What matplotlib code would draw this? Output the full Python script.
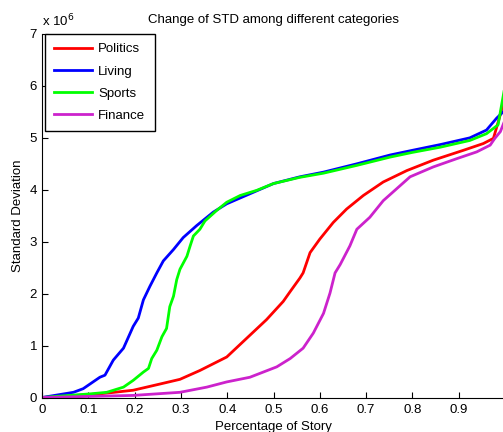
import matplotlib.pyplot as plt
import numpy as np

# readings (x = share of story, y = std in units of 1e6)
living_x = [0, 0.068, 0.089, 0.125, 0.136, 0.154, 0.176, 0.197, 0.208, 0.219, 0.233, 0.248,
            0.262, 0.284, 0.305, 0.334, 0.370, 0.399, 0.456, 0.50, 0.557, 0.608, 0.68,
            0.752, 0.80, 0.860, 0.924, 0.96, 0.982, 0.996]
living_y = [0, 0.10, 0.17, 0.39, 0.43, 0.72, 0.95, 1.37, 1.53, 1.88, 2.14, 2.40,
            2.63, 2.85, 3.08, 3.31, 3.57, 3.73, 3.95, 4.12, 4.25, 4.34, 4.50,
            4.67, 4.76, 4.87, 5.00, 5.15, 5.38, 5.50]

sports_x = [0, 0.104, 0.14, 0.176, 0.197, 0.219, 0.23, 0.237, 0.248, 0.259, 0.269, 0.276,
            0.284, 0.291, 0.298, 0.313, 0.320, 0.327, 0.341, 0.352, 0.377, 0.399, 0.428,
            0.464, 0.50, 0.557, 0.608, 0.68, 0.752, 0.80, 0.860, 0.924, 0.96, 0.985, 0.998]
sports_y = [0, 0.07, 0.10, 0.20, 0.33, 0.49, 0.56, 0.75, 0.91, 1.17, 1.33, 1.75,
            1.95, 2.27, 2.47, 2.72, 2.92, 3.11, 3.24, 3.40, 3.60, 3.76, 3.89,
            3.99, 4.12, 4.24, 4.32, 4.47, 4.63, 4.72, 4.82, 4.95, 5.08, 5.25, 5.90]

politics_x = [0, 0.125, 0.197, 0.255, 0.298, 0.341, 0.399, 0.442, 0.485, 0.521, 0.536, 0.557,
              0.564, 0.579, 0.600, 0.629, 0.658, 0.694, 0.737, 0.788, 0.845, 0.910, 0.953,
              0.975, 0.99, 0.998]
politics_y = [0, 0.07, 0.14, 0.26, 0.35, 0.52, 0.78, 1.14, 1.50, 1.85, 2.04, 2.30,
              2.40, 2.79, 3.05, 3.37, 3.63, 3.89, 4.15, 4.37, 4.57, 4.76, 4.89,
              4.99, 5.45, 5.75]

finance_x = [0, 0.197, 0.298, 0.356, 0.399, 0.449, 0.478, 0.507, 0.536, 0.564, 0.586, 0.608,
             0.622, 0.633, 0.644, 0.665, 0.680, 0.708, 0.737, 0.766, 0.795, 0.845, 0.896,
             0.939, 0.968, 0.978, 0.99, 0.998]
finance_y = [0, 0.04, 0.10, 0.20, 0.30, 0.39, 0.49, 0.59, 0.75, 0.95, 1.24, 1.62,
             2.01, 2.40, 2.56, 2.92, 3.24, 3.47, 3.79, 4.02, 4.25, 4.44, 4.60,
             4.73, 4.86, 4.99, 5.12, 5.30]

x_ticks = [0, 0.1, 0.2, 0.3, 0.4, 0.5, 0.6, 0.7, 0.8, 0.9, 1.0]
x_tick_labels = ['0', '0.1', '0.2', '0.3', '0.4', '0.5', '0.6', '0.7', '0.8', '0.9', '']

plt.rcParams['font.family'] = ['Liberation Sans', 'DejaVu Sans']

fig = plt.figure(figsize=(5.03, 4.32), dpi=100)
ax = fig.add_axes([42 / 503, 34.5 / 432, 463 / 503, 363.5 / 432])

lw = 2.0
ax.plot(politics_x, np.array(politics_y) * 1e6, color='#ff0000', lw=lw, label='Politics')
ax.plot(living_x, np.array(living_y) * 1e6, color='#0000ff', lw=lw, label='Living')
ax.plot(sports_x, np.array(sports_y) * 1e6, color='#00ff00', lw=lw, label='Sports')
ax.plot(finance_x, np.array(finance_y) * 1e6, color='#cc22cc', lw=lw, label='Finance')

ax.set_xlim(0, 1)
ax.set_ylim(0, 7e6)
ax.set_xticks(x_ticks)
ax.set_xticklabels(x_tick_labels)
ax.set_yticks(np.arange(0, 8) * 1e6)
ax.set_yticklabels([str(i) for i in range(8)])
ax.tick_params(direction='in', length=4, labelsize=9.5, width=0.8)
ax.tick_params(axis='x', pad=5)
ax.spines['top'].set_visible(False)
ax.spines['right'].set_visible(False)

ax.text(0, 1.012, r'x 10$^6$', transform=ax.transAxes, fontsize=9.5, ha='left', va='bottom')
ax.set_title('Change of STD among different categories', fontsize=9.5, pad=8)
ax.set_xlabel('Percentage of Story', fontsize=9.5, labelpad=3)
ax.set_ylabel('Standard Deviation', fontsize=9.5, labelpad=4)

leg = ax.legend(loc='upper left', fontsize=9.5, fancybox=False, framealpha=1,
                edgecolor='black', bbox_to_anchor=(0.006, 1.0), borderaxespad=0,
                handlelength=2.9, handletextpad=0.45,
                borderpad=0.7, labelspacing=0.75)
leg.get_frame().set_linewidth(1.0)

fig.savefig('out.png', dpi=100)
